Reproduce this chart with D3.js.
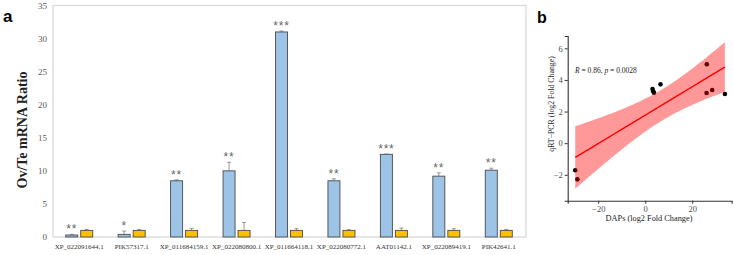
<!DOCTYPE html>
<html>
<head>
<meta charset="utf-8">
<script src="https://cdn.jsdelivr.net/npm/d3@7"></script>
<style>
  html, body { margin: 0; padding: 0; background: #fff; }
  svg { display: block; }
</style>
</head>
<body>
<svg id="chart" width="733" height="255"></svg>
<script>
/* Panel a: grouped bars (Ov/Te ratio), panel b: scatter with lm fit */
const genes = ['XP_022091644.1', 'PIK57317.1', 'XP_011684159.1', 'XP_022080800.1', 'XP_011664118.1',
  'XP_022080772.1', 'AAT01142.1', 'XP_022089419.1', 'PIK42641.1'];
const ovValues = [0.3, 0.4, 8.5, 10.0, 31.0, 8.5, 12.5, 9.2, 10.1];
const ovErrors = [0.1, 0.5, 0.15, 1.3, 0.15, 0.3, 0.05, 0.5, 0.3];
const teValues = [1.0, 1.0, 1.0, 1.0, 1.0, 1.0, 1.0, 1.0, 1.0];
const teErrors = [0.15, 0.15, 0.3, 1.2, 0.25, 0.1, 0.35, 0.25, 0.15];
const stars = ['**', '*', '**', '**', '***', '**', '***', '**', '**'];
const ratioTicks = [0, 5, 10, 15, 20, 25, 30, 35];

const dapsFc = [-29.8, -28.9, 3.1, 3.4, 3.7, 6.5, 26.2, 26.1, 28.5, 33.9];
const qpcrFc = [-1.71, -2.29, 3.43, 3.28, 3.19, 3.72, 4.99, 3.17, 3.36, 3.11];
const dapsTicks = [-20, 0, 20];
const qpcrTicks = [-2, 0, 2, 4, 6];

(function () {
  const svg = d3.select('#chart');
  const SERIF = '"Liberation Serif", "DejaVu Serif", serif';
  const SANS = '"Liberation Sans", Arial, sans-serif';

  // ---------- panel a ----------
  const x0 = d3.scaleBand().domain(genes).range([53, 525]).paddingInner(0.485).paddingOuter(0.2425);
  const x1 = d3.scaleBand().domain(['ov', 'te']).range([0, x0.bandwidth()]).paddingInner(0.2);
  const yA = d3.scaleLinear().domain([0, 35]).range([237, 5.5]);

  svg.append('text').attr('x', 3).attr('y', 22).attr('font-family', SANS)
    .attr('font-weight', 'bold').attr('font-size', 17).text('a');

  svg.append('rect').attr('x', 53).attr('y', 5.5).attr('width', 473).attr('height', 231.5)
    .attr('fill', 'none').attr('stroke', '#d9d9d9').attr('stroke-width', 1.3);

  const yAxisA = svg.append('g').attr('transform', 'translate(47,0)')
    .call(d3.axisLeft(yA).tickValues(ratioTicks).tickSize(0).tickPadding(0));
  yAxisA.select('.domain').remove();
  yAxisA.selectAll('text').attr('font-family', SERIF).attr('font-size', 9).attr('fill', '#595959');

  svg.append('text')
    .attr('transform', 'translate(27,130) rotate(-90)')
    .attr('text-anchor', 'middle').attr('font-family', SERIF).attr('font-weight', 'bold')
    .attr('font-size', 14).attr('fill', '#222').text('Ov/Te mRNA Ratio');

  const rows = genes.map((g, i) => ({
    gene: g, star: stars[i],
    bars: [
      { key: 'ov', v: ovValues[i], e: ovErrors[i], fill: '#9dc3e6' },
      { key: 'te', v: teValues[i], e: teErrors[i], fill: '#ffc000' }
    ]
  }));

  const groups = svg.append('g').selectAll('g').data(rows).join('g')
    .attr('transform', (d) => 'translate(' + x0(d.gene) + ',0)');

  // error bars first so the bar outline sits on top of the stem
  groups.selectAll('path.err').data((d) => d.bars).join('path')
    .attr('class', 'err')
    .attr('d', (d) => {
      const cx = x1(d.key) + x1.bandwidth() / 2;
      const top = yA(d.v + d.e);
      return 'M' + cx + ',' + yA(d.v) + 'V' + top + 'M' + (cx - 2) + ',' + top + 'H' + (cx + 2);
    })
    .attr('stroke', '#8c8c8c').attr('stroke-width', 0.9).attr('fill', 'none');

  groups.selectAll('rect').data((d) => d.bars).join('rect')
    .attr('x', (d) => x1(d.key))
    .attr('y', (d) => yA(d.v))
    .attr('width', x1.bandwidth())
    .attr('height', (d) => yA(0) - yA(d.v))
    .attr('fill', (d) => d.fill)
    .attr('stroke', '#4a4a4a').attr('stroke-width', 0.9);

  groups.append('text')
    .attr('x', x1('ov') + x1.bandwidth() / 2)
    .attr('y', (d) => yA(d.bars[0].v + d.bars[0].e) - 1)
    .attr('text-anchor', 'middle').attr('font-family', SANS).attr('font-size', 12)
    .attr('letter-spacing', 0.8)
    .attr('fill', '#666').text((d) => d.star);

  const xAxisA = svg.append('g').attr('transform', 'translate(0,237)')
    .call(d3.axisBottom(x0).tickSize(0).tickPadding(7));
  xAxisA.select('.domain').remove();
  xAxisA.selectAll('text').attr('font-family', SERIF).attr('font-size', 7).attr('fill', '#333');

  // ---------- panel b ----------
  const xB = d3.scaleLinear().domain([-33.0, 36.8]).range([567.7, 731.7]);
  const yB = d3.scaleLinear().domain([-3.64, 6.78]).range([200.7, 36]);

  svg.append('text').attr('x', 537).attr('y', 23).attr('font-family', SANS)
    .attr('font-weight', 'bold').attr('font-size', 16).text('b');

  const pts = dapsFc.map((x, i) => ({ x: x, y: qpcrFc[i] }));

  // ordinary least squares with a 95% confidence band, like geom_smooth(method = 'lm')
  const n = pts.length;
  const mx = d3.mean(pts, (d) => d.x);
  const my = d3.mean(pts, (d) => d.y);
  const sxx = d3.sum(pts, (d) => (d.x - mx) ** 2);
  const sxy = d3.sum(pts, (d) => (d.x - mx) * (d.y - my));
  const syy = d3.sum(pts, (d) => (d.y - my) ** 2);
  const slope = sxy / sxx;
  const icpt = my - slope * mx;
  const s = Math.sqrt((syy - slope * sxy) / (n - 2));
  const T975 = 2.306; // t quantile, 8 df
  const [xmin, xmax] = d3.extent(pts, (d) => d.x);
  const grid = d3.range(0, 81).map((k) => xmin + (xmax - xmin) * k / 80);
  const band = grid.map((x) => {
    const fit = icpt + slope * x;
    const half = T975 * s * Math.sqrt(1 / n + (x - mx) ** 2 / sxx);
    return { x: x, fit: fit, lo: fit - half, hi: fit + half };
  });

  svg.append('g').selectAll('circle').data(pts).join('circle')
    .attr('cx', (d) => xB(d.x)).attr('cy', (d) => yB(d.y)).attr('r', 2.3).attr('fill', '#000');

  svg.append('path').datum(band)
    .attr('d', d3.area().x((d) => xB(d.x)).y0((d) => yB(d.lo)).y1((d) => yB(d.hi)))
    .attr('fill', '#ff0000').attr('fill-opacity', 0.4);

  svg.append('path').datum(band)
    .attr('d', d3.line().x((d) => xB(d.x)).y((d) => yB(d.fit)))
    .attr('fill', 'none').attr('stroke', '#ff0000').attr('stroke-width', 1.4);

  const xAxisB = svg.append('g').attr('transform', 'translate(0,200.7)')
    .call(d3.axisBottom(xB).tickValues(dapsTicks).tickSize(3).tickPadding(2).tickFormat(d3.format('')));
  const yAxisB = svg.append('g').attr('transform', 'translate(567.7,0)')
    .call(d3.axisLeft(yB).tickValues(qpcrTicks).tickSize(3).tickPadding(2).tickFormat(d3.format('')));
  [xAxisB, yAxisB].forEach((ax) => {
    ax.select('.domain').attr('stroke', '#333').attr('stroke-width', 1.1);
    ax.selectAll('line').attr('stroke', '#333');
    ax.selectAll('text').attr('font-family', SERIF).attr('font-size', 8.5).attr('fill', '#4d4d4d');
  });

  svg.append('text').attr('x', 649).attr('y', 221).attr('text-anchor', 'middle')
    .attr('font-family', SERIF).attr('font-size', 8.3).attr('fill', '#222')
    .text('DAPs (log2 Fold Change)');

  svg.append('text').attr('transform', 'translate(554,104) rotate(-90)')
    .attr('text-anchor', 'middle').attr('font-family', SERIF).attr('font-size', 7.8)
    .attr('fill', '#222').text('qRT\u2212PCR (log2 Fold Change)');

  const rt = svg.append('text').attr('x', 575).attr('y', 73)
    .attr('font-family', SERIF).attr('font-size', 7.5).attr('fill', '#222');
  rt.append('tspan').attr('font-style', 'italic').text('R');
  rt.append('tspan').text(' = 0.86, ');
  rt.append('tspan').attr('font-style', 'italic').text('p');
  rt.append('tspan').text(' = 0.0028');
})();
</script>
</body>
</html>
